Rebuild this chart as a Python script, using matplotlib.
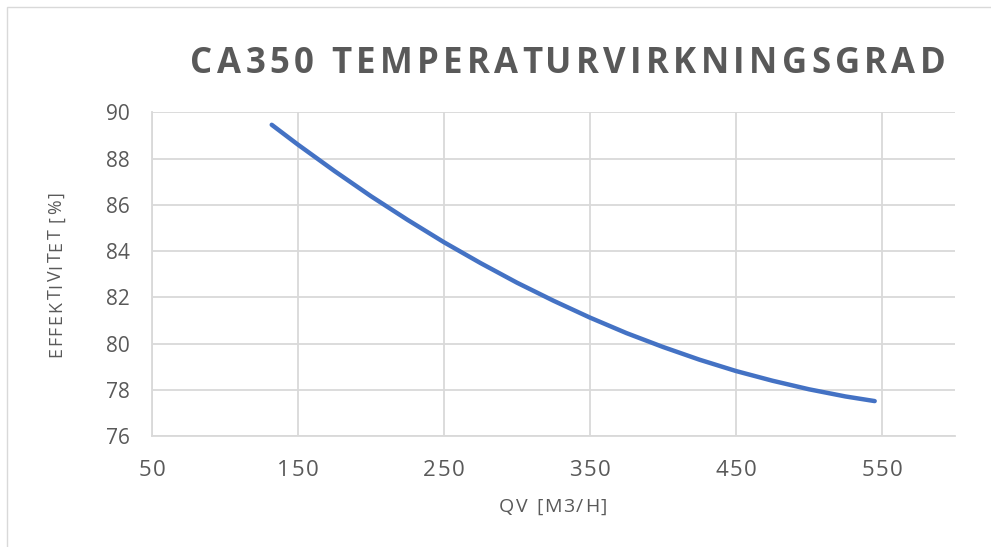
import matplotlib
matplotlib.use('Agg')
import matplotlib.pyplot as plt
from matplotlib.patches import Rectangle
from matplotlib.transforms import IdentityTransform

# values
qv = [132, 150, 175, 200, 225, 250, 275, 300, 325, 350, 375, 400, 425, 450, 475, 500, 525, 545]
eff = [89.46, 88.6, 87.46, 86.37, 85.35, 84.38, 83.48, 82.63, 81.85, 81.12,
       80.45, 79.85, 79.3, 78.81, 78.39, 78.02, 77.71, 77.51]

x_ticks = [50, 150, 250, 350, 450, 550]
y_ticks = [76, 78, 80, 82, 84, 86, 88, 90]

title = 'CA350 TEMPERATURVIRKNINGSGRAD'
xlabel = 'QV [M3/H]'
ylabel = 'EFFEKTIVITET [%]'

gray = '#595959'
grid = '#D9D9D9'
blue = '#4472C4'

plt.rcParams['font.family'] = ['Open Sans', 'DejaVu Sans']

W, H = 991, 547
fig = plt.figure(figsize=(W / 100, H / 100), dpi=100)
ax = fig.add_axes([152 / W, 1 - 436 / H, (955 - 152) / W, (436 - 112.3) / H])
renderer = fig.canvas.get_renderer()


def text_width(s, **kw):
    t = fig.text(0, 0, s, **kw)
    w = t.get_window_extent(renderer).width
    t.remove()
    return w


def spaced(cx, cy, s, track=0.0, width=None, vertical=False, **kw):
    # draw s centred on (cx, cy) in pixels, with extra letter spacing
    n = len(s)
    natural = text_width(s, **kw)
    if width is not None:
        track = (width - natural) / (n - 1)
    total = natural + track * (n - 1)
    for i, ch in enumerate(s):
        off = (text_width(s[:i], **kw) if i else 0) + i * track - total / 2
        if vertical:
            x, y, rot = cx, cy + off, 90
        else:
            x, y, rot = cx + off, cy, 0
        fig.text(x, y, ch, transform=IdentityTransform(), rotation=rot,
                 rotation_mode='anchor', ha='left', va='baseline', **kw)


ax.plot(qv, eff, color=blue, lw=3.2, solid_capstyle='round', zorder=3)

ax.set_xlim(50, 600)
ax.set_ylim(76, 90)
ax.set_xticks(x_ticks)
ax.set_yticks(y_ticks)
ax.set_xticklabels([])
ax.grid(True, color=grid, lw=1.3)
ax.set_axisbelow(True)
for s in ['top', 'right']:
    ax.spines[s].set_visible(False)
for s in ['left', 'bottom']:
    ax.spines[s].set_color(grid)
    ax.spines[s].set_linewidth(1.3)
ax.tick_params(length=0, colors=gray, labelsize=15)
ax.tick_params(axis='y', pad=16)

# x tick labels with letter spacing
for v in x_ticks:
    px = ax.transData.transform((v, 76))[0]
    spaced(px, H - 476, str(v), track=1.7, fontsize=16, color=gray)

spaced(553, H - 512, xlabel, width=108, fontsize=14, color=gray)
spaced(61, H - 274.5, ylabel, width=165, vertical=True, fontsize=12.8, color=gray)
spaced(568, H - 73, title, width=755, fontsize=25, fontweight='bold', color=gray)

# chart border
fig.patches.append(Rectangle((7 / W, -0.1), 1.1, 1 - 7 / H + 0.1,
                             transform=fig.transFigure, fill=False,
                             edgecolor=grid, lw=1))

fig.savefig('out.png', dpi=100)
